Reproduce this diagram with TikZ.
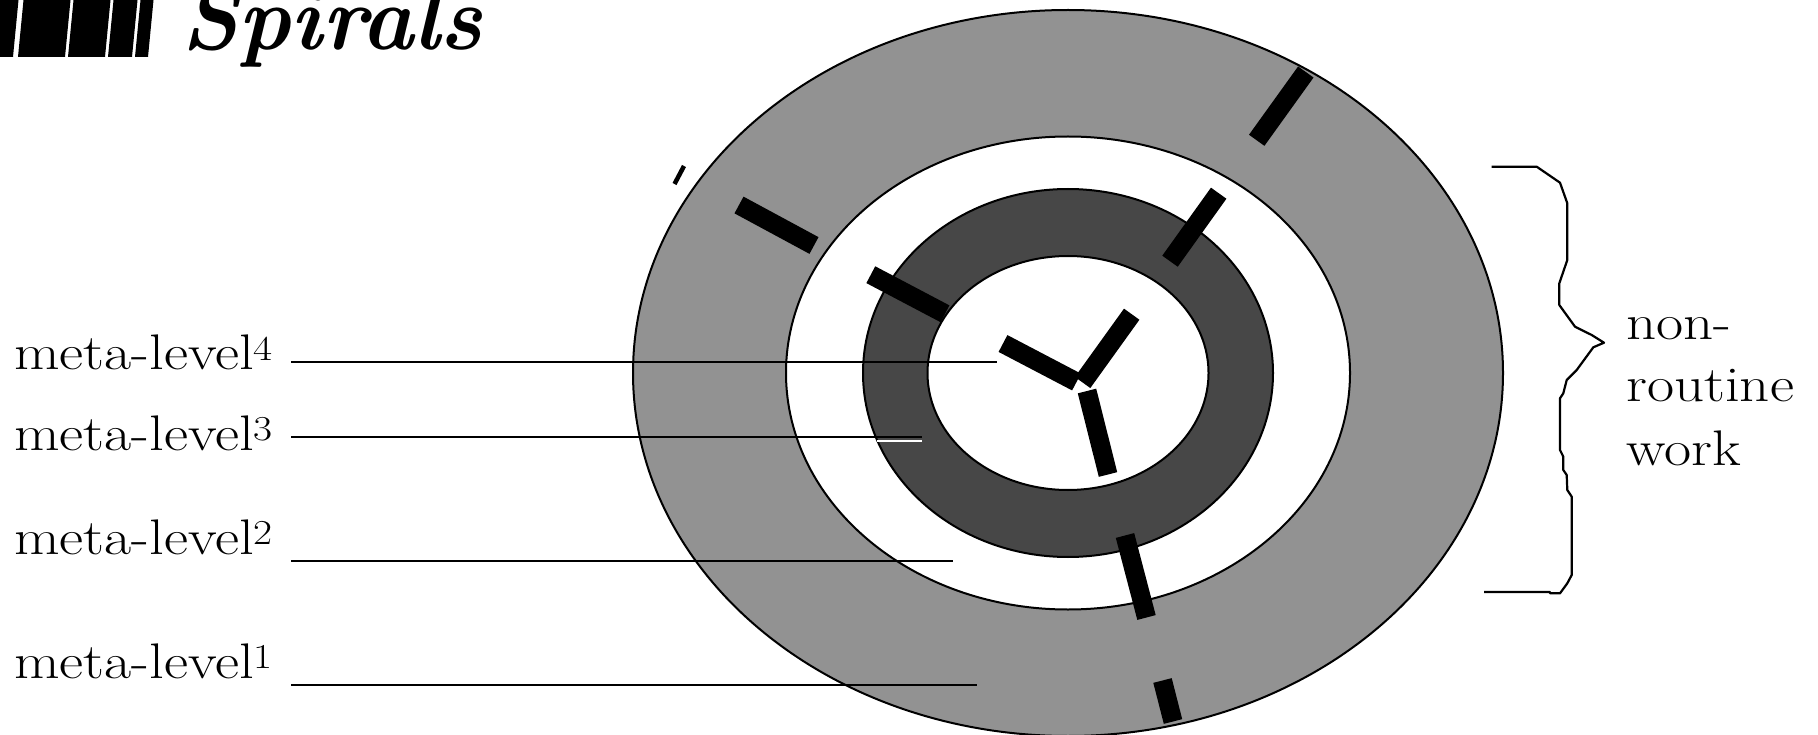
\documentclass[tikz,border=0pt]{standalone}
\usepackage{fontspec}
\usepackage{graphicx}
\definecolor{outergray}{RGB}{146,146,146}
\definecolor{darkgray2}{RGB}{71,71,71}
\newcommand{\widetxt}[1]{\scalebox{1.18}[1]{#1}}
\begin{document}
\begin{tikzpicture}[x=1pt,y=-1pt,
  ring/.style={draw=black,line width=2pt},
  bar/.style={line width=19pt,line cap=butt,black},
  lbl/.style={inner sep=0pt,anchor=base west,font=\fontsize{50}{58}\selectfont},
  leader/.style={line width=2.5pt,black}]
\useasboundingbox (0,0) rectangle (1818,735);
\clip (0,0) rectangle (1818,735);
\fill[white] (0,0) rectangle (1818,735);
% title
\foreach \a/\b in {-8/13,18/65,68/105,108/132,135/148}{
  \fill[black] (\a,57) -- (\b,57) -- (\b+6,-5) -- (\a+6,-5) -- cycle;}
\node[inner sep=0pt,anchor=base west,font=\fontsize{92}{100}\selectfont\bfseries\itshape] (title) at (181,50) {\scalebox{0.96}[1]{Spirals}};
% rings
\coordinate (c) at (1068,373);
\draw[ring,fill=outergray] (c) ellipse [x radius=435,y radius=363];
\draw[ring,fill=white] (c) ellipse [x radius=282,y radius=236.5];
\draw[ring,fill=darkgray2] (c) ellipse [x radius=205,y radius=184];
\draw[ring,fill=white] (c) ellipse [x radius=140.5,y radius=117];
% bars
\draw[bar] (1305.8,72) -- (1256.7,140.3);
\draw[bar] (1218.7,193.2) -- (1170,261.2);
\draw[bar] (1131.7,314.2) -- (1082.6,382.5);
\draw[bar] (739,205) -- (814,245.5);
\draw[bar] (870.8,274.7) -- (945,313.8);
\draw[bar] (1003,343.5) -- (1076.5,382);
\draw[bar] (1087,391) -- (1108,474.5);
\draw[bar] (1125,535.5) -- (1146.5,617.5);
\draw[bar] (1162.5,680.5) -- (1173,721.5);
\draw[line width=4.5pt] (674.5,184) -- (684,166);
% labels
\node[lbl] (m4) at (14,370) {\widetxt{meta-level\textsuperscript{4}}};
\node[lbl] (m3) at (14,450) {\widetxt{meta-level\textsuperscript{3}}};
\node[lbl] (m2) at (14,554) {\widetxt{meta-level\textsuperscript{2}}};
\node[lbl] (m1) at (14,678) {\widetxt{meta-level\textsuperscript{1}}};
\coordinate (m4s) at (291,362); \coordinate (m4e) at (997,362);
\coordinate (m3s) at (291,437); \coordinate (m3e) at (921.7,437);
\coordinate (m3ws) at (876.7,441); \coordinate (m3we) at (921.7,441);
\coordinate (m2s) at (291,561); \coordinate (m2e) at (953,561);
\coordinate (m1s) at (291,685); \coordinate (m1e) at (977.4,685);
\draw[leader] (m4s) -- (m4e);
\draw[leader] (m3s) -- (m3e);
\draw[leader,white] (m3ws) -- (m3we);
\draw[leader] (m2s) -- (m2e);
\draw[leader] (m1s) -- (m1e);
% brace
\draw[line width=2.2pt,line join=round] (1491.7,166.7) -- (1536.7,166.7) -- (1560,182.7) -- (1567.3,203.3) -- (1567.3,260) -- (1559.3,283.3) -- (1559.3,305) -- (1575,326.7) -- (1591.7,335) -- (1604,342.7) -- (1593.3,347.3) -- (1576.7,370) -- (1566.7,380) -- (1563.3,393.3) -- (1560,398.3) -- (1560,450) -- (1563.3,456.7) -- (1563.3,470) -- (1566.7,475) -- (1567.3,490) -- (1571.7,496.7) -- (1571.7,575) -- (1567.3,583.3) -- (1560,593.3) -- (1550,593.3) -- (1550,592) -- (1484,592);
\node[lbl] (nr1) at (1626,339) {\widetxt{non-}};
\node[lbl] (nr2) at (1626,401.7) {\widetxt{routine}};
\node[lbl] (nr3) at (1626,465) {\widetxt{work}};
\end{tikzpicture}
\end{document}
